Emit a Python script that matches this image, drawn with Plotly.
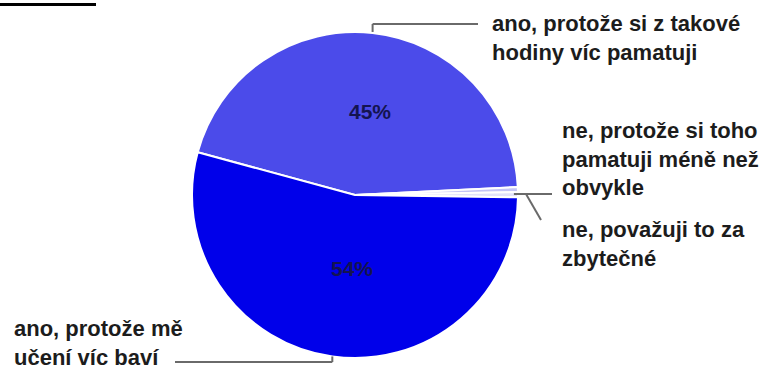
import math
import plotly.graph_objects as go

# Survey answers, in clockwise order starting from the upper-left edge of the pie
labels = [
    "ano, protože si z takové<br>hodiny víc pamatuji",
    "ne, protože si toho<br>pamatuji méně než<br>obvykle",
    "ne, považuji to za<br>zbytečné",
    "ano, protože mě<br>učení víc baví",
]
values = [45, 0.5, 0.5, 54]
colors = ["#4b4bea", "#c4c4f6", "#e2e2fa", "#0000ea"]
start_angle = 164.8  # math angle (deg) where the first slice begins

W, H = 772, 372
CX, CY, R = 355, 195, 163
FONT = "Liberation Sans, Arial, sans-serif"
TEXT_COLOR = "#1c1c1c"
LINE_COLOR = "#6a6a6a"


def px(x):
    return x / W


def py(y):
    return 1 - y / H


total = sum(values)
mid_angles = []
a = start_angle
for v in values:
    span = 360 * v / total
    mid_angles.append(a - span / 2)
    a -= span


def edge_point(deg, r=R):
    t = math.radians(deg)
    return CX + r * math.cos(t), CY - r * math.sin(t)


fig = go.Figure(
    go.Pie(
        labels=labels,
        values=values,
        sort=False,
        direction="clockwise",
        rotation=90 - start_angle,
        marker=dict(colors=colors, line=dict(color="white", width=2)),
        textinfo="none",
        hoverinfo="label+percent",
        showlegend=False,
        domain=dict(x=[px(CX - R), px(CX + R)], y=[py(CY + R), py(CY - R)]),
    )
)

shapes = []
annotations = []


def seg(x0, y0, x1, y1, color=LINE_COLOR, width=2):
    shapes.append(dict(type="line", xref="paper", yref="paper",
                       x0=px(x0), y0=py(y0), x1=px(x1), y1=py(y1),
                       line=dict(color=color, width=width)))


# leader lines from slice mid-angles out to their labels
x0, y0 = edge_point(mid_angles[0])
seg(x0, y0 - 1, x0, 24)
seg(x0, 24, 478, 24)

x1, y1 = edge_point(mid_angles[1])
seg(x1 - 4, 194, 552, 194)

x2, y2 = edge_point(mid_angles[2])
seg(x2 + 8, 194, 541, 220)

x3, y3 = edge_point(mid_angles[3])
seg(x3, y3, x3, 362)
seg(x3, 362, 175, 362)

# heading rule in the corner
seg(0, 4.5, 96, 4.5, color="black", width=3)

label_pos = [(490, 38), (560, 159), (560, 244), (12, 343)]
for text, (lx, ly) in zip(labels, label_pos):
    annotations.append(dict(text=text, x=px(lx), y=py(ly), xref="paper", yref="paper",
                            xanchor="left", yanchor="middle", align="left", showarrow=False,
                            font=dict(family=FONT, size=22, color=TEXT_COLOR, weight="bold")))

# percentage labels inside the two large slices
pct_pos = {0: (370, 112), 3: (352, 268)}
for i, (lx, ly) in pct_pos.items():
    annotations.append(dict(text=f"{round(100 * values[i] / total)}%", x=px(lx), y=py(ly),
                            xref="paper", yref="paper", xanchor="center", yanchor="middle",
                            showarrow=False,
                            font=dict(family=FONT, size=21, color="#141450", weight="bold")))

fig.update_layout(
    width=W, height=H,
    margin=dict(l=0, r=0, t=0, b=0),
    paper_bgcolor="white", plot_bgcolor="white",
    shapes=shapes, annotations=annotations,
)

fig.write_html("out.html")
